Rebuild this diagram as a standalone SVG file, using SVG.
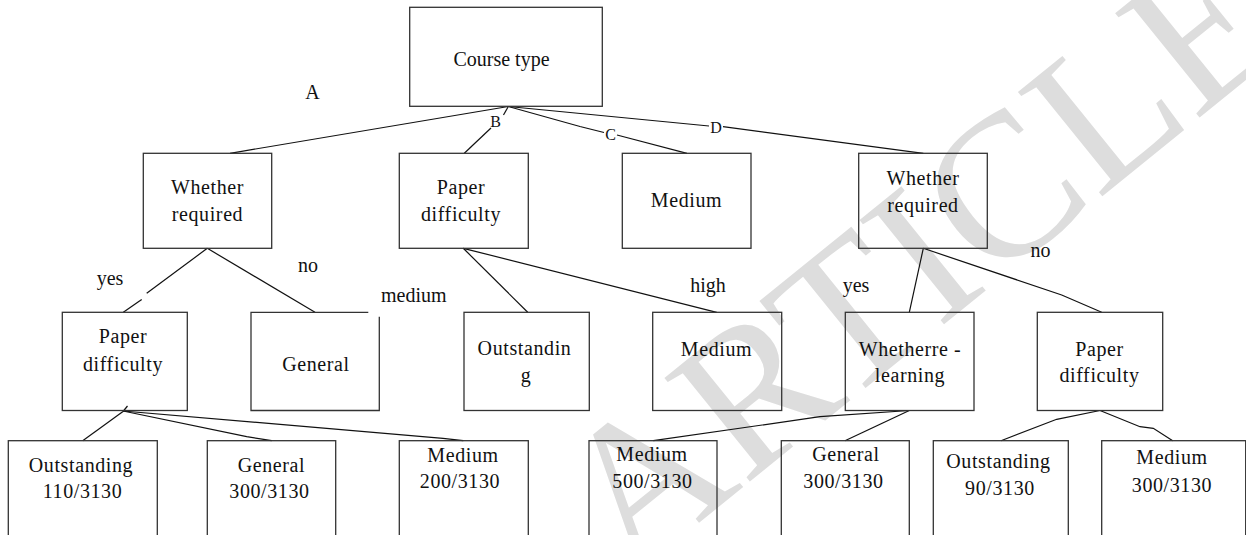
<svg xmlns="http://www.w3.org/2000/svg" width="1246" height="535" viewBox="0 0 1246 535">
<style>
.box{fill:none;stroke:#333;stroke-width:1.3}
.ln{fill:none;stroke:#111;stroke-width:1.2}
.t{font-family:"Liberation Serif","Times New Roman",serif;font-size:20px;fill:#111;text-anchor:middle;letter-spacing:0.6px}
.lb{font-family:"Liberation Serif","Times New Roman",serif;font-size:20px;fill:#111;text-anchor:middle}
.sl{font-family:"Liberation Serif","Times New Roman",serif;font-size:16px;fill:#111;text-anchor:middle}
.wm{font-family:"Liberation Serif","Times New Roman",serif;font-size:205px;fill:#dddddd;text-anchor:middle}
</style>
<rect width="1246" height="535" fill="#fff"/>
<text class="wm" transform="translate(918,258) rotate(-39)" y="68">ARTICLE</text>
<g id="connectors">
<polyline class="ln" points="508.3,106.5 230,153.3"/>
<polyline class="ln" points="508.3,106.5 503.5,115"/>
<polyline class="ln" points="491,128 464.3,153.3"/>
<polyline class="ln" points="508.3,106.5 580,126.5 604,132.5"/>
<polyline class="ln" points="617,135 687,153.3"/>
<polyline class="ln" points="508.3,106.5 709,126"/>
<polyline class="ln" points="723,126.7 923.3,153.3"/>
<polyline class="ln" points="207.3,248.3 146.7,293.3"/>
<polyline class="ln" points="141.7,299.5 123.3,312.3"/>
<polyline class="ln" points="207.3,248.3 315,312.3"/>
<polyline class="ln" points="463.3,248.3 527.7,312.3"/>
<polyline class="ln" points="463.3,248.3 716.7,312.3"/>
<polyline class="ln" points="923.3,248.3 909.3,312.3"/>
<polyline class="ln" points="923.3,248.3 1061.7,295 1101.7,312.3"/>
<polyline class="ln" points="123,411.5 82.7,440.7"/>
<polyline class="ln" points="127.5,406 123,411.5"/>
<polyline class="ln" points="123,411 246.7,436.7 271.7,440.7"/>
<polyline class="ln" points="123,411 443,438.3 463.3,440.7"/>
<polyline class="ln" points="909.3,410.5 820,416.7 653.3,440.7"/>
<polyline class="ln" points="909.3,410.5 845,440.7"/>
<polyline class="ln" points="1100,410.5 1056.7,419.3 1001,440.7"/>
<polyline class="ln" points="1100,410.5 1140,426.7 1153.3,428.3 1172.7,440.7"/>
<text class="sl" x="495.7" y="126.5">B</text>
<text class="sl" x="610.5" y="139.5">C</text>
<text class="sl" x="716" y="132.5">D</text>
<text class="lb" x="312.5" y="99.3">A</text>
<text class="lb" x="110" y="285">yes</text>
<text class="lb" x="308" y="271.7">no</text>
<text class="lb" x="413.8" y="301.7">medium</text>
<text class="lb" x="708" y="291.7">high</text>
<text class="lb" x="856" y="291.7">yes</text>
<text class="lb" x="1040.5" y="257.3">no</text>
</g>
<g id="n-course-type"><rect class="box" x="409.7" y="7.3" width="192.6" height="99"/><text class="lb" x="501.5" y="65.7">Course type</text></g>
<g id="n-whether-required-1"><rect class="box" x="143.3" y="153.3" width="128.4" height="95"/><text class="t" x="207.5" y="194">Whether</text><text class="t" x="207.5" y="220.7">required</text></g>
<g id="n-paper-difficulty-1"><rect class="box" x="399.3" y="153.3" width="129" height="95"/><text class="t" x="461" y="194">Paper</text><text class="t" x="461" y="220.7">difficulty</text></g>
<g id="n-medium-1"><rect class="box" x="622.3" y="153.3" width="128.7" height="95"/><text class="t" x="686.5" y="206.7">Medium</text></g>
<g id="n-whether-required-2"><rect class="box" x="858.7" y="153.3" width="128.6" height="95"/><text class="t" x="923" y="185">Whether</text><text class="t" x="923" y="211.7">required</text></g>
<g id="n-paper-difficulty-2"><rect class="box" x="62.3" y="312.3" width="125" height="98.2"/><text class="t" x="123" y="343.3">Paper</text><text class="t" x="123" y="370.7">difficulty</text></g>
<g id="n-general-1"><path class="box" d="M368.3,312.3 H251 V410.5 H379.3 V316.7"/><text class="t" x="316" y="370.7">General</text></g>
<g id="n-outstanding-1"><rect class="box" x="464" y="312.3" width="125.3" height="98.2"/><text class="t" x="524.5" y="355">Outstandin</text><text class="t" x="526" y="382">g</text></g>
<g id="n-medium-2"><rect class="box" x="652.7" y="312.3" width="129" height="98.2"/><text class="t" x="716.5" y="356">Medium</text></g>
<g id="n-whether-relearning"><rect class="box" x="845.3" y="312.3" width="128.7" height="98.2"/><text class="t" x="910" y="356">Whetherre -</text><text class="t" x="910" y="381.7">learning</text></g>
<g id="n-paper-difficulty-3"><rect class="box" x="1037.3" y="312.3" width="125.4" height="98.2"/><text class="t" x="1099.5" y="356">Paper</text><text class="t" x="1099.5" y="382">difficulty</text></g>
<g id="n-outstanding-110"><rect class="box" x="8.3" y="440.7" width="149" height="110"/><text class="t" x="81" y="471.7">Outstanding</text><text class="t" x="82.5" y="497.7">110/3130</text></g>
<g id="n-general-300-1"><rect class="box" x="207.3" y="440.7" width="128.4" height="110"/><text class="t" x="271.5" y="471.7">General</text><text class="t" x="269.5" y="497.7">300/3130</text></g>
<g id="n-medium-200"><rect class="box" x="399.3" y="440.7" width="129" height="110"/><text class="t" x="463" y="461.7">Medium</text><text class="t" x="460" y="488.3">200/3130</text></g>
<g id="n-medium-500"><rect class="box" x="589" y="440.7" width="128" height="110"/><text class="t" x="652" y="461.2">Medium</text><text class="t" x="652.5" y="488.3">500/3130</text></g>
<g id="n-general-300-2"><rect class="box" x="781.3" y="440.7" width="128" height="110"/><text class="t" x="846" y="461.2">General</text><text class="t" x="843.5" y="488">300/3130</text></g>
<g id="n-outstanding-90"><rect class="box" x="933.3" y="440.7" width="135" height="110"/><text class="t" x="998.5" y="467.7">Outstanding</text><text class="t" x="1000" y="495">90/3130</text></g>
<g id="n-medium-300"><rect class="box" x="1101.7" y="440.7" width="144" height="110"/><text class="t" x="1172" y="464">Medium</text><text class="t" x="1172" y="491.7">300/3130</text></g>
</svg>
